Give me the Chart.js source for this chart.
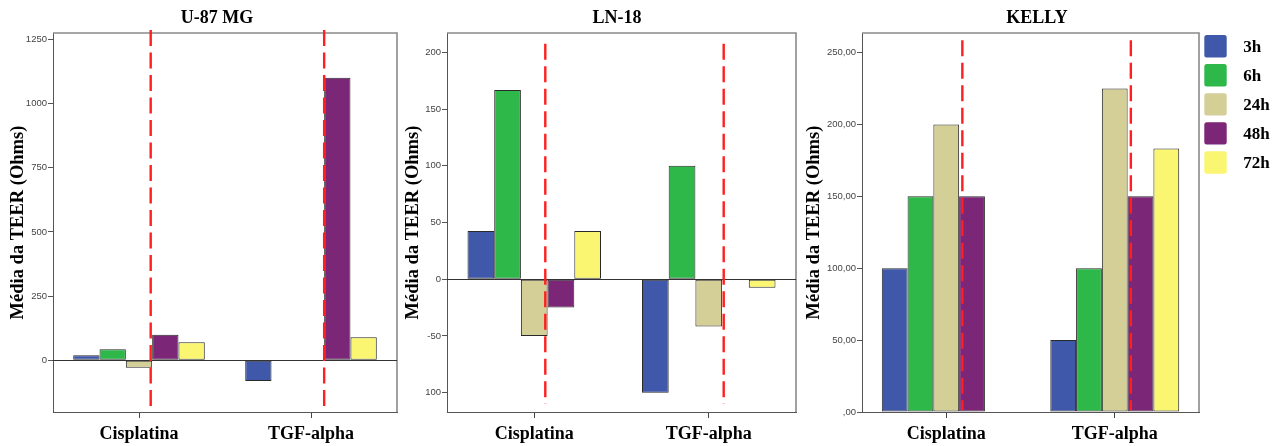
<!DOCTYPE html>
<html>
<head>
<meta charset="utf-8">
<script src="https://cdn.jsdelivr.net/npm/chart.js@4.4.1/dist/chart.umd.min.js"></script>
<style>
  html, body { margin: 0; padding: 0; background: #ffffff; }
  #wrap { position: relative; width: 1284px; height: 446px; overflow: hidden; background: #fff; }
  .panel { position: absolute; top: 0; }
</style>
</head>
<body>
<div id="wrap">
  <canvas id="u87" class="panel" style="left:0px" width="400" height="446"></canvas>
  <canvas id="ln18" class="panel" style="left:400px" width="400" height="446"></canvas>
  <canvas id="kelly" class="panel" style="left:800px" width="484" height="446"></canvas>
</div>
<script>
// Treatment groups on the x axis and the sampling times (one series each)
const categories = ['Cisplatina', 'TGF-alpha'];
const timeLabels = ['3h', '6h', '24h', '48h', '72h'];
const timeColors = ['#3f58aa', '#2eb84a', '#d4ce97', '#7b2677', '#faf672'];

// Mean TEER (Ohms) per cell line, one array per time point: [Cisplatina, TGF-alpha]
const u87_3h  = [20, -80];
const u87_6h  = [43, 0];
const u87_24h = [-29, 0];
const u87_48h = [100, 1100];
const u87_72h = [70, 90];

const ln18_3h  = [42.5, -100];
const ln18_6h  = [166.7, 100];
const ln18_24h = [-50, -41.7];
const ln18_48h = [-25, 0];
const ln18_72h = [42.5, -7.5];

const kelly_3h  = [100, 50];
const kelly_6h  = [150, 100];
const kelly_24h = [200, 225];
const kelly_48h = [150, 150];
const kelly_72h = [0, 183.3];

// Y tick values and their printed labels
const u87Ticks = [0, 250, 500, 750, 1000, 1250];
const u87TickLabels = ['0', '250', '500', '750', '1000', '1250'];
const ln18Ticks = [-100, -50, 0, 50, 100, 150, 200];
const ln18TickLabels = ['100', '-50', '0', '50', '100', '150', '200'];
const kellyTicks = [0, 50, 100, 150, 200, 250];
const kellyTickLabels = [',00', '50,00', '100,00', '150,00', '200,00', '250,00'];

const SERIF = "'Liberation Serif', 'Times New Roman', serif";
const SANS = "'Liberation Sans', Arial, sans-serif";

// Frame, zero line, dashed reference lines, panel title and (optionally) legend
const decorPlugin = {
  id: 'decor',
  afterDatasetsDraw(chart, args, o) {
    const { ctx, chartArea: a, scales: { x, y } } = chart;
    ctx.save();
    // top and right sides of the plot frame
    ctx.strokeStyle = '#8a8a8a';
    ctx.lineWidth = 1.6;
    ctx.beginPath();
    ctx.moveTo(a.left, a.top);
    ctx.lineTo(a.right, a.top);
    ctx.lineTo(a.right, a.bottom);
    ctx.stroke();
    // zero reference line
    if (o.zeroLine) {
      const zy = Math.round(y.getPixelForValue(0)) + 0.5;
      ctx.strokeStyle = '#333';
      ctx.lineWidth = 1;
      ctx.beginPath();
      ctx.moveTo(a.left, zy);
      ctx.lineTo(a.right, zy);
      ctx.stroke();
    }
    // red dashed markers
    ctx.strokeStyle = '#ff1f1f';
    ctx.lineWidth = 2.4;
    ctx.setLineDash([16, 6.5]);
    o.markers.forEach(m => {
      const px = x.getPixelForValue(m);
      ctx.beginPath();
      ctx.moveTo(px, a.top + o.markerTop);
      ctx.lineTo(px, a.bottom + o.markerBottom);
      ctx.stroke();
    });
    ctx.setLineDash([]);
    ctx.restore();
  },
  afterDraw(chart, args, o) {
    const { ctx, chartArea: a } = chart;
    ctx.save();
    ctx.fillStyle = '#000';
    ctx.font = 'bold 18px ' + SERIF;
    ctx.textAlign = 'center';
    ctx.textBaseline = 'middle';
    ctx.fillText(o.title, o.titleX, 18.5);
    if (o.legend) {
      const sw = 22.4, step = 29.07;
      chart.data.datasets.forEach((ds, i) => {
        const lx = a.right + 5.3;
        const ly = 35 + i * step;
        ctx.fillStyle = ds.backgroundColor;
        ctx.beginPath();
        ctx.roundRect(lx, ly, sw, sw, 2.5);
        ctx.fill();
        ctx.fillStyle = '#000';
        ctx.font = 'bold 17px ' + SERIF;
        ctx.textAlign = 'left';
        ctx.textBaseline = 'middle';
        ctx.fillText(ds.label, lx + 39, ly + sw / 2 + 1);
      });
    }
    ctx.restore();
  }
};

function buildPanel(id, series, p) {
  const datasets = series.map((vals, i) => ({
    label: timeLabels[i],
    data: vals,
    backgroundColor: timeColors[i],
    borderColor: '#2a2a2a',
    borderWidth: 1,
    borderSkipped: false,
    categoryPercentage: 0.765,
    barPercentage: 1.0
  }));
  return new Chart(document.getElementById(id), {
    type: 'bar',
    data: { labels: categories, datasets },
    plugins: [decorPlugin],
    options: {
      responsive: false,
      animation: false,
      layout: { padding: { left: 0, right: p.padRight, top: 33, bottom: 0 } },
      plugins: {
        legend: { display: false },
        tooltip: { enabled: false },
        decor: p.decor
      },
      scales: {
        x: {
          afterFit: s => { s.height = 34; },
          ticks: { font: { family: SERIF, size: 18, weight: 'bold' }, color: '#000', padding: 6 },
          grid: { display: true, offset: false, drawOnChartArea: false, drawTicks: true, tickLength: 6, color: '#444' },
          border: { display: true, color: '#555', width: 1 }
        },
        y: {
          min: p.min,
          max: p.max,
          afterBuildTicks: s => { s.ticks = p.ticks.map(v => ({ value: v })); },
          afterFit: s => { s.width = p.yWidth; },
          ticks: {
            callback: v => p.tickLabels[p.ticks.indexOf(v)],
            font: { family: SANS, size: 9.5 },
            color: '#444',
            padding: 1
          },
          grid: { display: true, drawOnChartArea: false, drawTicks: true, tickLength: 5, color: '#555' },
          border: { display: true, color: '#555', width: 1 },
          title: {
            display: true,
            text: 'Média da TEER (Ohms)',
            font: { family: SERIF, size: 18.5, weight: 'bold' },
            color: '#000',
            padding: { top: p.titlePad, bottom: 0 }
          }
        }
      }
    }
  });
}

buildPanel('u87', [u87_3h, u87_6h, u87_24h, u87_48h, u87_72h], {
  min: -201, max: 1274, ticks: u87Ticks, tickLabels: u87TickLabels,
  yWidth: 53, padRight: 3, titlePad: 7.2,
  decor: { title: 'U-87 MG', titleX: 217, zeroLine: true, markers: [0.068, 1.0765], markerTop: -3, markerBottom: -5 }
});

buildPanel('ln18', [ln18_3h, ln18_6h, ln18_24h, ln18_48h, ln18_72h], {
  min: -117, max: 217, ticks: ln18Ticks, tickLabels: ln18TickLabels,
  yWidth: 47, padRight: 4, titlePad: 2.2,
  decor: { title: 'LN-18', titleX: 217, zeroLine: true, markers: [0.0633, 1.0857], markerTop: 10.7, markerBottom: -8 }
});

buildPanel('kelly', [kelly_3h, kelly_6h, kelly_24h, kelly_48h, kelly_72h], {
  min: 0, max: 263.6, ticks: kellyTicks, tickLabels: kellyTickLabels,
  yWidth: 62, padRight: 85, titlePad: 3.2,
  decor: { title: 'KELLY', titleX: 237, zeroLine: false, legend: true, markers: [0.0955, 1.0955], markerTop: 7.3, markerBottom: -2 }
});
</script>
</body>
</html>
